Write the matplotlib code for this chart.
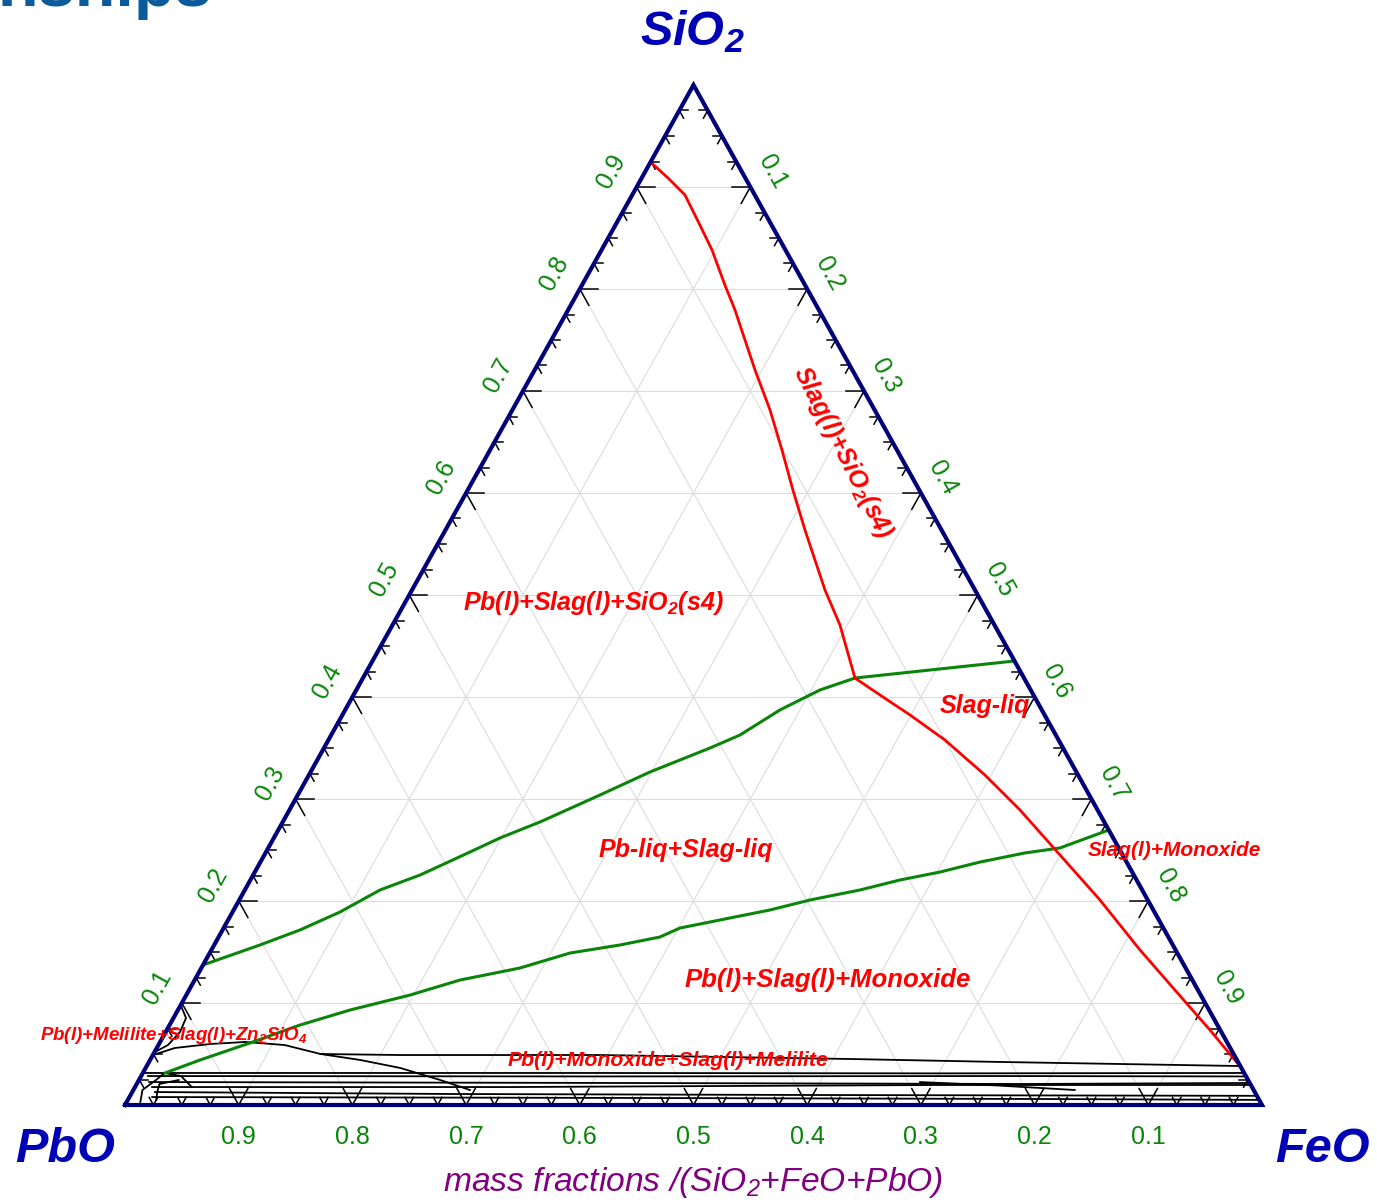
import matplotlib
matplotlib.use('Agg')
import matplotlib.pyplot as plt
import numpy as np

plt.rcParams['font.family'] = ['Liberation Sans', 'DejaVu Sans']
plt.rcParams['mathtext.fontset'] = 'custom'
plt.rcParams['mathtext.rm'] = 'Liberation Sans:italic'
plt.rcParams['mathtext.it'] = 'Liberation Sans:italic'
plt.rcParams['mathtext.bf'] = 'Liberation Sans:bold:italic'

# ---------------- data: compositions as (SiO2, FeO) mass fractions ----------------
tick_values = [0.1, 0.2, 0.3, 0.4, 0.5, 0.6, 0.7, 0.8, 0.9]
tick_labels = ['0.1', '0.2', '0.3', '0.4', '0.5', '0.6', '0.7', '0.8', '0.9']

# SiO2 liquidus (red)
red1_sio2 = [0.9245, 0.9088, 0.8922, 0.8627, 0.8382, 0.8039, 0.7794, 0.750, 0.7206,
             0.6814, 0.6422, 0.6029, 0.5637, 0.5343, 0.5049, 0.4706, 0.4186]
red1_feo = [0.000, 0.0232, 0.0464, 0.0743, 0.0972, 0.1257, 0.1468, 0.1703, 0.1938,
            0.2266, 0.2567, 0.2860, 0.3162, 0.3397, 0.3632, 0.3935, 0.4327]
# Monoxide liquidus (red)
red2_sio2 = [0.4186, 0.4020, 0.3824, 0.3578, 0.3235, 0.2892, 0.2451, 0.2010, 0.1520,
             0.1127, 0.0735, 0.0363]
red2_feo = [0.4327, 0.4630, 0.4992, 0.5423, 0.5946, 0.6426, 0.6998, 0.7570, 0.8167,
            0.8671, 0.9175, 0.9637]

# Green boundaries
green1_sio2 = [0.4353, 0.4186, 0.4069, 0.3873, 0.3627, 0.3500, 0.3265, 0.3039, 0.2775,
               0.2618, 0.2480, 0.2255, 0.2108, 0.1892, 0.1716, 0.1569, 0.1373]
green1_feo = [0.5647, 0.4327, 0.4078, 0.3824, 0.3595, 0.3395, 0.2985, 0.2658, 0.2263,
              0.1989, 0.1794, 0.1468, 0.1189, 0.0945, 0.0681, 0.0403, 0.0000]
green2_sio2 = [0.2696, 0.2520, 0.2471, 0.2382, 0.2284, 0.2206, 0.2108, 0.2010, 0.1912,
               0.1814, 0.1735, 0.1647, 0.1569, 0.1490, 0.1343, 0.1225, 0.1078, 0.0931,
               0.0784, 0.0608, 0.0441, 0.0314]
green2_feo = [0.7304, 0.6963, 0.6680, 0.6329, 0.6026, 0.5713, 0.5410, 0.5020, 0.4717,
              0.4326, 0.4013, 0.3881, 0.3570, 0.3169, 0.2802, 0.2333, 0.1968, 0.1513,
              0.1147, 0.0795, 0.0439, 0.0195]

# Black low-SiO2 boundaries
blackA_sio2 = [0.0490, 0.0559, 0.0598, 0.0618, 0.0588, 0.0500, 0.0490, 0.0490, 0.0451, 0.0422, 0.0382]
blackA_feo = [0.000, 0.016, 0.045, 0.075, 0.111, 0.147, 0.217, 0.393, 0.615, 0.748, 0.962]
blackB_sio2 = [0.0500, 0.0441, 0.0363, 0.0245, 0.0147]
blackB_feo = [0.147, 0.185, 0.224, 0.265, 0.296]
blackC_sio2 = [0.0314, 0.0314, 0.0310, 0.0314]
blackC_feo = [0.000, 0.400, 0.700, 0.9686]
blackD_sio2 = [0.0284, 0.0280, 0.0284, 0.0280]
blackD_feo = [0.006, 0.400, 0.750, 0.9720]
blackE_sio2 = [0.0225, 0.0216, 0.0206, 0.0216]
blackE_feo = [0.010, 0.420, 0.780, 0.9784]
blackF_sio2 = [0.0176, 0.0176, 0.0196, 0.0196]
blackF_feo = [0.015, 0.330, 0.700, 0.9804]
blackG_sio2 = [0.0127, 0.0108, 0.0098, 0.0090]
blackG_feo = [0.020, 0.280, 0.600, 0.9910]
blackH_sio2 = [0.0078, 0.0070, 0.0059, 0.0050]
blackH_feo = [0.020, 0.400, 0.800, 0.9950]
blackI_sio2 = [0.0225, 0.0190, 0.0147]
blackI_feo = [0.688, 0.760, 0.828]
blackK_sio2 = [0.0980, 0.0853, 0.0716, 0.0588, 0.0520]
blackK_feo = [0.000, 0.011, 0.0126, 0.0084, 0.0004]
blackL_sio2 = [0.0030, 0.0147, 0.0245, 0.0314, 0.0284, 0.0176]
blackL_feo = [0.012, 0.008, 0.015, 0.019, 0.035, 0.050]
blackM_sio2 = [0.0050, 0.0127, 0.0206, 0.0245]
blackM_feo = [0.025, 0.022, 0.020, 0.035]

# ---------------- geometry ----------------
X0, Y0, W, H = 125.0, 1105.0, 1137.0, 1020.0


def tern(s, f):
    s = np.asarray(s, dtype=float)
    f = np.asarray(f, dtype=float)
    return X0 + W * (f + s / 2.0), Y0 - H * s


fig = plt.figure(figsize=(13.77, 12.02), dpi=100)
ax = fig.add_axes([0, 0, 1, 1])
ax.set_xlim(0, 1377)
ax.set_ylim(1202, 0)
ax.axis('off')

# grid
gcol = '#dcdcdc'
for v in tick_values:
    for (s0, f0, s1, f1) in [(v, 0, v, 1 - v), (0, v, 1 - v, v), (0, 1 - v, 1 - v, 0)]:
        x, y = tern([s0, s1], [f0, f1])
        ax.plot(x, y, color=gcol, lw=0.8, zorder=1)

# ticks
tks = np.arange(1, 40) * 0.025
for t in tks:
    major = abs(t * 10 - round(t * 10)) < 1e-6
    L = 0.016 if major else 0.0075
    # bottom edge
    for ds, df in [(L, 0), (L, -L)]:
        x, y = tern([0, ds], [t, t + df])
        ax.plot(x, y, color='black', lw=1.1, zorder=3)
    # left edge
    for ds, df in [(0, L), (-L, L)]:
        x, y = tern([t, t + ds], [0, df])
        ax.plot(x, y, color='black', lw=1.1, zorder=3)
    # right edge
    for ds, df in [(0, -L), (-L, 0)]:
        x, y = tern([t, t + ds], [1 - t, 1 - t + df])
        ax.plot(x, y, color='black', lw=1.1, zorder=3)

# black boundaries
for s_, f_ in [(blackA_sio2, blackA_feo), (blackB_sio2, blackB_feo), (blackC_sio2, blackC_feo),
               (blackD_sio2, blackD_feo), (blackE_sio2, blackE_feo), (blackF_sio2, blackF_feo),
               (blackG_sio2, blackG_feo), (blackH_sio2, blackH_feo), (blackI_sio2, blackI_feo),
               (blackK_sio2, blackK_feo), (blackL_sio2, blackL_feo), (blackM_sio2, blackM_feo)]:
    x, y = tern(s_, f_)
    ax.plot(x, y, color='black', lw=1.3, zorder=4)

# green boundaries
for s_, f_ in [(green1_sio2, green1_feo), (green2_sio2, green2_feo)]:
    x, y = tern(s_, f_)
    ax.plot(x, y, color='#0a850a', lw=2.2, zorder=5)

# red liquidus
for s_, f_ in [(red1_sio2, red1_feo), (red2_sio2, red2_feo)]:
    x, y = tern(s_, f_)
    ax.plot(x, y, color='#ff0000', lw=2.0, zorder=6)

# triangle frame
x, y = tern([0, 0, 1, 0], [0, 1, 0, 0])
ax.plot(x, y, color='#00007a', lw=3.0, zorder=8, solid_joinstyle='miter')

# tick labels
green = '#0a850a'
for v, lab in zip(tick_values, tick_labels):
    # bottom: PbO fraction
    x, y = tern(0, 1 - v)
    ax.text(x, 1137, lab, color=green, fontsize=18, ha='center', va='center', zorder=9)
    # left: SiO2 fraction
    x, y = tern(v, 0)
    ax.text(x - 25, y - 16, lab, color=green, fontsize=18, ha='center', va='center',
            rotation=61, zorder=9)
    # right: FeO fraction
    x, y = tern(1 - v, v)
    ax.text(x + 22, y - 15, lab, color=green, fontsize=18, ha='center', va='center',
            rotation=-61, zorder=9)

# vertex labels
vcol = '#0000b4'
ax.text(692, 32, r'SiO$_\mathbf{2}$', color=vcol, fontsize=35, fontweight='bold',
        fontstyle='italic', ha='center', va='center')
ax.text(65, 1150, 'PbO', color=vcol, fontsize=35, fontweight='bold',
        fontstyle='italic', ha='center', va='center')
ax.text(1322, 1150, 'FeO', color=vcol, fontsize=35, fontweight='bold',
        fontstyle='italic', ha='center', va='center')

# axis title
ax.text(693, 1183, r'mass fractions /(SiO$_2$+FeO+PbO)', color='#800080', fontsize=24.2,
        fontstyle='italic', ha='center', va='center')

# region labels
rk = dict(color='#ff0000', fontweight='bold', fontstyle='italic', zorder=10)
ax.text(593, 603, r'Pb(l)+Slag(l)+SiO$_\mathbf{2}$(s4)', fontsize=18, ha='center', va='center', **rk)
ax.text(843, 452, r'Slag(l)+SiO$_\mathbf{2}$(s4)', fontsize=18, ha='center', va='center',
        rotation=-63, **rk)
ax.text(985, 706, 'Slag-liq', fontsize=18, ha='center', va='center', **rk)
ax.text(686, 850, 'Pb-liq+Slag-liq', fontsize=18, ha='center', va='center', **rk)
ax.text(1174, 851, 'Slag(l)+Monoxide', fontsize=15, ha='center', va='center', **rk)
ax.text(828, 980, 'Pb(l)+Slag(l)+Monoxide', fontsize=18.5, ha='center', va='center', **rk)
ax.text(668, 1060, 'Pb(l)+Monoxide+Slag(l)+Melilite', fontsize=15.3, ha='center', va='center', **rk)
ax.text(40, 1036, r'Pb(l)+Melilite+Slag(l)+Zn$_\mathbf{2}$SiO$_\mathbf{4}$', fontsize=13.5,
        ha='left', va='center', **rk)

# cropped page title fragment (cut off at the top edge, as in the reference)
ax.text(-2, 6, 'nships', color='#0a5a9c', fontsize=48, fontweight='bold',
        ha='left', va='baseline', zorder=10)

fig.savefig('out.png', dpi=100)
